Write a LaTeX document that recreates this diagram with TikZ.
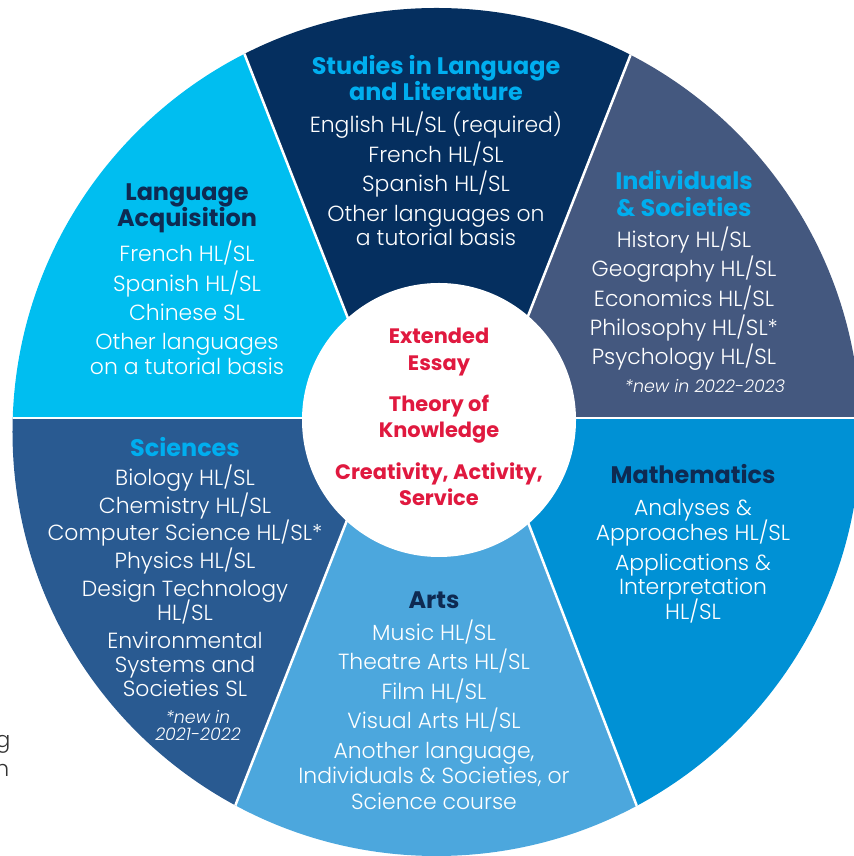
\documentclass[tikz,border=0pt]{standalone}
\usepackage{fontspec}
\setmainfont{Poppins}[UprightFont={* Light}, BoldFont={* Bold}, ItalicFont={* Light Italic}]
\usepackage{tikz}
\usetikzlibrary{positioning}
\definecolor{studiesnavy}{HTML}{052F5F}
\definecolor{langcyan}{HTML}{00BEF0}
\definecolor{indivslate}{HTML}{44587F}
\definecolor{mathblue}{HTML}{0091D5}
\definecolor{artsblue}{HTML}{4CA7DD}
\definecolor{sciblue}{HTML}{295A91}
\definecolor{headcyan}{HTML}{00AEEF}
\definecolor{headnavy}{HTML}{0E2A52}
\definecolor{corered}{HTML}{E0193F}
\definecolor{fragmentgray}{HTML}{333333}
\tikzset{
    heading/.style={align=center, inner sep=0pt, font=\fontsize{24}{26.5}\selectfont\bfseries},
    subjects/.style={align=center, inner sep=0pt, text=white, font=\fontsize{22}{29.5}\selectfont},
    note/.style={align=center, inner sep=0pt, text=white, font=\fontsize{17.5}{18}\selectfont\itshape},
    core/.style={align=center, inner sep=0pt, text=corered, font=\fontsize{21}{26.5}\selectfont\bfseries},
    divider/.style={white, line width=2.5bp},
    fragment/.style={inner sep=0pt, text=fragmentgray, font=\fontsize{22}{29}\selectfont}
}
\begin{document}
\begin{tikzpicture}[x=1bp, y=1bp]
    \useasboundingbox (0,0) rectangle (854,856);
    % corner points of the wheel
    \coordinate (wheel_centre) at (436.5,424);
    \coordinate (core_centre) at (439,436);
    \coordinate (split_left) at (387,438);
    \coordinate (split_right) at (488,438);
    \coordinate (edge_studies_left) at (174,982);
    \coordinate (edge_studies_right) at (700,978);
    \coordinate (edge_arts_left) at (158,-147);
    \coordinate (edge_arts_right) at (712,-146);
    \coordinate (edge_west) at (-100,438);
    \coordinate (edge_east) at (1000,438);
    % sectors and white dividers
    \begin{scope}
        \clip (wheel_centre) circle[radius=424bp];
        \fill[studiesnavy] (split_left) -- (edge_studies_left) -- (edge_studies_right) -- (split_right) -- cycle;
        \fill[langcyan] (split_left) -- (edge_west) -- (edge_west |- edge_studies_left) -- (edge_studies_left) -- cycle;
        \fill[indivslate] (split_right) -- (edge_studies_right) -- (edge_east |- edge_studies_right) -- (edge_east) -- cycle;
        \fill[sciblue] (split_left) -- (edge_west) -- (edge_west |- edge_arts_left) -- (edge_arts_left) -- cycle;
        \fill[artsblue] (split_left) -- (edge_arts_left) -- (edge_arts_right) -- (split_right) -- cycle;
        \fill[mathblue] (split_right) -- (edge_arts_right) -- (edge_east |- edge_arts_right) -- (edge_east) -- cycle;
        \draw[divider] (edge_west) -- (edge_east);
        \draw[divider] (split_left) -- (edge_studies_left);
        \draw[divider] (split_right) -- (edge_studies_right);
        \draw[divider] (split_left) -- (edge_arts_left);
        \draw[divider] (split_right) -- (edge_arts_right);
    \end{scope}
    \fill[white] (core_centre) circle[radius=137bp];

    % Studies in Language and Literature (top)
    \node[heading, text=headcyan] (studies_title) at (436,778) {Studies in Language\\and Literature};
    \node[subjects, below=11bp of studies_title] (studies_list)
    {English HL/SL (required)\\French HL/SL\\Spanish HL/SL\\Other languages on\\[-4.5bp]a tutorial basis};

    % Language Acquisition (top left)
    \node[heading, text=headnavy] (lang_title) at (187,648) {Language\\Acquisition};
    \node[subjects, below=8bp of lang_title] (lang_list)
    {French HL/SL\\Spanish HL/SL\\Chinese SL\\Other languages\\[-4.5bp]on a tutorial basis};

    % Individuals & Societies (top right)
    \node[heading, text=headcyan] (indiv_title) at (684,662.5) {Individuals\\\& Societies};
    \node[subjects, below=10bp of indiv_title] (indiv_list)
    {History HL/SL\\Geography HL/SL\\Economics HL/SL\\Philosophy HL/SL*\\Psychology HL/SL};
    \node[note, below=8bp of indiv_list, xshift=21bp] (indiv_note) {*new in 2022-2023};

    % Sciences (bottom left)
    \node[heading, text=headcyan] (sci_title) at (185,408.5) {Sciences};
    \node[subjects, font=\fontsize{22}{28}\selectfont, below=7bp of sci_title] (sci_list)
    {Biology HL/SL\\Chemistry HL/SL\\Computer Science HL/SL*\\Physics HL/SL\\Design Technology\\[-4bp]HL/SL\\Environmental\\[-4bp]Systems and\\[-4bp]Societies SL};
    \node[note, below=13bp of sci_list, xshift=13bp] (sci_note) {*new in\\2021-2022};

    % Mathematics (bottom right)
    \node[heading, text=headnavy] (math_title) at (693,381.5) {Mathematics};
    \node[subjects, below=15bp of math_title] (math_list)
    {Analyses \&\\[-4.5bp]Approaches HL/SL\\Applications \&\\[-4.5bp]Interpretation\\[-4.5bp]HL/SL};

    % Arts (bottom)
    \node[heading, text=headnavy] (arts_title) at (434,256) {Arts};
    \node[subjects, below=11bp of arts_title] (arts_list)
    {Music HL/SL\\Theatre Arts HL/SL\\Film HL/SL\\Visual Arts HL/SL\\Another language,\\[-3.5bp]Individuals \& Societies, or\\[-3.5bp]Science course};

    % core in the middle
    \node[core] (core_text) at (439,439) {Extended\\Essay\\[15bp]Theory of\\Knowledge\\[15bp]Creativity, Activity,\\Service};

    % cut-off text at the left edge
    \node[fragment, anchor=base east] (frag_g) at (10.5,108) {g};
    \node[fragment, anchor=base east] (frag_n) at (9.5,79) {n};
\end{tikzpicture}
\end{document}
